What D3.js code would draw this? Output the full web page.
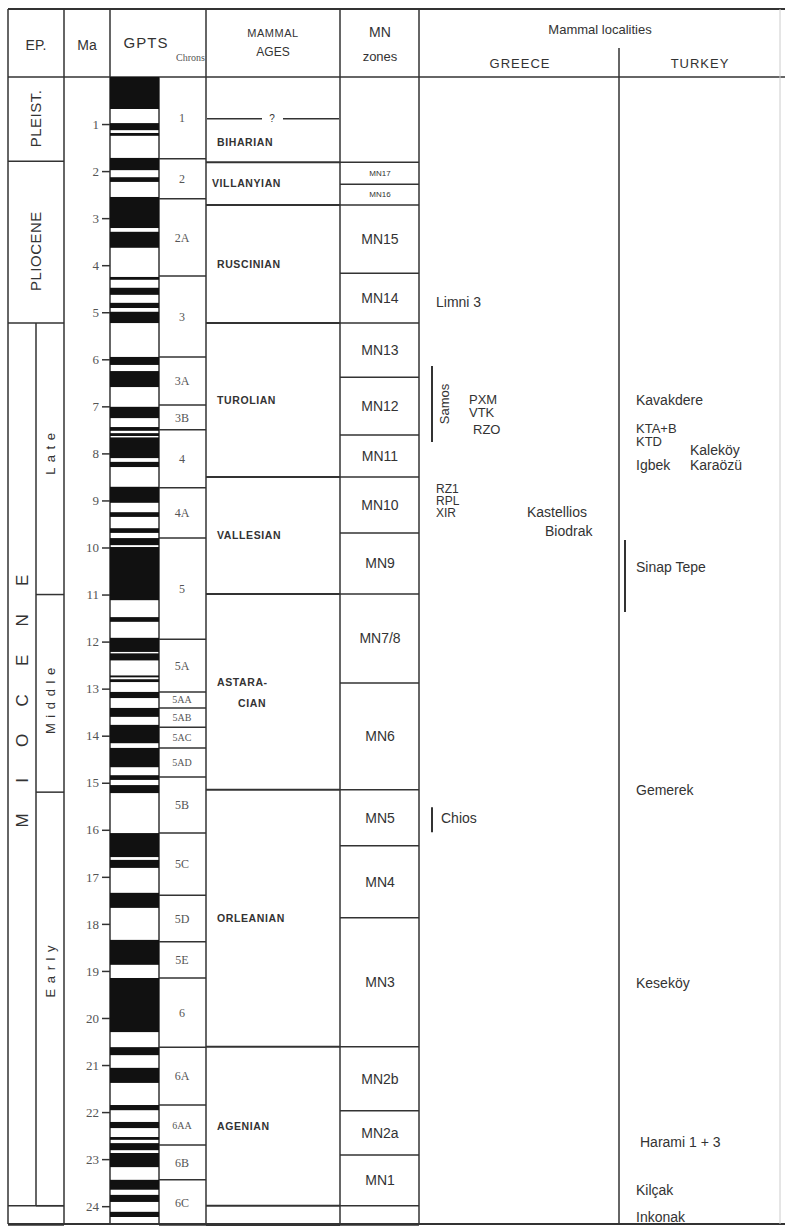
<!DOCTYPE html>
<html>
<head>
<meta charset="utf-8">
<script src="https://cdn.jsdelivr.net/npm/d3@7/dist/d3.min.js"></script>
<style>
  body { margin: 0; background: #fff; }
  text { font-family: "Liberation Sans", Arial, sans-serif; fill: #333; }
  .serif { font-family: "Liberation Serif", "Times New Roman", serif; fill: #555; }
</style>
</head>
<body>
<svg id="chart" width="785" height="1227"></svg>
<script>
// ---- data (ages in Ma) ----
var maTicks = [1, 2, 3, 4, 5, 6, 7, 8, 9, 10, 11, 12, 13, 14, 15, 16, 17, 18, 19, 20, 21, 22, 23, 24];

// normal polarity intervals [top, base]
var normalPolarity = [
  [0, 0.68], [0.98, 1.13], [1.19, 1.25], [1.72, 1.98], [2.13, 2.23],
  [2.55, 3.21], [3.29, 3.63], [4.25, 4.31], [4.48, 4.63], [4.80, 4.91],
  [4.99, 5.23], [5.95, 6.12], [6.25, 6.59], [7.01, 7.25], [7.44, 7.52],
  [7.57, 7.63], [7.66, 8.10], [8.18, 8.29], [8.71, 9.05], [9.25, 9.35],
  [9.59, 9.69], [9.80, 9.95], [9.99, 11.12], [11.48, 11.58], [11.92, 12.22],
  [12.25, 12.40], [12.72, 12.76], [12.80, 12.86], [13.07, 13.20], [13.41, 13.60],
  [13.77, 14.16], [14.26, 14.67], [14.84, 14.94], [15.05, 15.22], [16.07, 16.58],
  [16.64, 16.81], [17.34, 17.66], [18.34, 18.87], [19.15, 20.30], [20.62, 20.79],
  [21.06, 21.38], [21.85, 21.96], [22.21, 22.34], [22.53, 22.59], [22.66, 22.81],
  [22.87, 23.17], [23.44, 23.65], [23.76, 23.91], [24.12, 24.23]
];

var chronNames = ["1", "2", "2A", "3", "3A", "3B", "4", "4A", "5", "5A", "5AA", "5AB",
  "5AC", "5AD", "5B", "5C", "5D", "5E", "6", "6A", "6AA", "6B", "6C"];
var chronBase = [1.74, 2.59, 4.23, 5.95, 6.97, 7.50, 8.73, 9.80, 11.95, 13.07, 13.41, 13.82,
  14.26, 14.88, 16.07, 17.39, 18.38, 19.15, 20.62, 21.85, 22.70, 23.44, 24.4];

var epochNames = ["PLEIST.", "PLIOCENE", "MIOCENE", ""];
var epochBase = [1.79, 5.23, 23.99, 24.4];
var epochLabelAt = [0.88, 3.7, 13.25, null];

var subEpochNames = ["L a t e", "M i d d l e", "E a r l y"];
var subEpochBase = [11.0, 15.2, 23.99];
var subEpochLabelAt = [8.0, 13.25, 19.0];

var mammalAgeNames = ["", "VILLANYIAN", "RUSCINIAN", "TUROLIAN", "VALLESIAN", "ASTARA-|CIAN", "ORLEANIAN", "AGENIAN", ""];
var mammalAgeBase = [1.81, 2.72, 5.23, 8.50, 10.99, 15.15, 20.61, 23.99, 24.4];
var biharianLabel = "BIHARIAN";
var biharianTop = 0.89;

var mnNames = ["", "MN17", "MN16", "MN15", "MN14", "MN13", "MN12", "MN11", "MN10", "MN9",
  "MN7/8", "MN6", "MN5", "MN4", "MN3", "MN2b", "MN2a", "MN1", ""];
var mnBase = [1.81, 2.28, 2.72, 4.17, 5.23, 6.38, 7.61, 8.50, 9.69, 10.99,
  12.88, 15.15, 16.34, 17.87, 20.61, 21.97, 22.91, 23.99, 24.4];

var greeceSites = [
  { name: "Limni 3", ma: 4.78 },
  { name: "PXM", ma: 6.86 },
  { name: "VTK", ma: 7.13 },
  { name: "RZO", ma: 7.50 },
  { name: "RZ1", ma: 8.76 },
  { name: "RPL", ma: 9.01 },
  { name: "XIR", ma: 9.26 },
  { name: "Kastellios", ma: 9.25 },
  { name: "Biodrak", ma: 9.65 },
  { name: "Chios", ma: 15.75 }
];
var turkeySites = [
  { name: "Kavakdere", ma: 6.87 },
  { name: "KTA+B", ma: 7.46 },
  { name: "KTD", ma: 7.74 },
  { name: "Kaleköy", ma: 7.93 },
  { name: "Igbek", ma: 8.25 },
  { name: "Karaözü", ma: 8.25 },
  { name: "Sinap Tepe", ma: 10.41 },
  { name: "Gemerek", ma: 15.15 },
  { name: "Keseköy", ma: 19.26 },
  { name: "Harami 1 + 3", ma: 22.64 },
  { name: "Kilçak", ma: 23.66 },
  { name: "Inkonak", ma: 24.23 }
];
// range bars beside locality groups
var greeceRanges = [{ name: "Samos", top: 6.14, base: 7.76 }, { name: "", top: 15.52, base: 16.05 }];
var turkeyRanges = [{ name: "", top: 9.84, base: 11.37 }];

// ---- drawing ----
var svg = d3.select("#chart");
var y = d3.scaleLinear().domain([0, 24.4]).range([77, 1225]);
var line = "#333";

function hline(x1, x2, yy, w) {
  return svg.append("line").attr("x1", x1).attr("x2", x2).attr("y1", yy).attr("y2", yy)
    .attr("stroke", line).attr("stroke-width", w || 1.5);
}
function vline(xx, y1, y2, w) {
  return svg.append("line").attr("x1", xx).attr("x2", xx).attr("y1", y1).attr("y2", y2)
    .attr("stroke", line).attr("stroke-width", w || 1.5);
}
function tops(base) { return base.map(function(d, i) { return i ? base[i - 1] : 0; }); }

// frame + column lines
hline(8, 785, 9, 2);
hline(8, 785, y(0), 1.5);
hline(8, 785, y(24.4) - 1, 2);
[8, 64, 110, 206, 340, 419].forEach(function(x) { vline(x, 9, y(24.4) - 1); });
vline(159, y(0), y(24.4) - 1);
vline(619, 48, y(24.4) - 1);
vline(780, 9, y(24.4) - 1, 1).attr("stroke", "#ccc");

// header
function htext(x, yy, s, size, anchor, cls) {
  return svg.append("text").attr("x", x).attr("y", yy).attr("text-anchor", anchor || "middle")
    .attr("font-size", size).attr("class", cls || null).text(s);
}
htext(36, 50, "EP.", 14);
htext(87, 50, "Ma", 14);
htext(146, 48, "GPTS", 15).attr("letter-spacing", 1);
htext(205, 61, "Chrons", 10, "end", "serif");
htext(273, 37, "MAMMAL", 11).attr("letter-spacing", 0.5);
htext(273, 56, "AGES", 12);
htext(380, 37, "MN", 14);
htext(380, 61, "zones", 13);
htext(600, 34, "Mammal localities", 13);
htext(520, 68, "GREECE", 13).attr("letter-spacing", 1);
htext(700, 68, "TURKEY", 13).attr("letter-spacing", 1);

// epochs
epochBase.forEach(function(b, i) {
  hline(8, 64, y(b));
  if (!epochNames[i]) return;
  if (i === 2) {
    // widely spaced Miocene label, laid out letter by letter
    var letters = epochNames[i].split("");
    var step = 40;
    svg.append("g").selectAll("text").data(letters).join("text")
      .attr("transform", function(d, k) {
        return "translate(28," + (y(epochLabelAt[i]) + (3 - k) * step) + ") rotate(-90)";
      })
      .attr("text-anchor", "middle").attr("font-size", 17).text(function(d) { return d; });
    return;
  }
  svg.append("text").attr("transform", "translate(41," + y(epochLabelAt[i]) + ") rotate(-90)")
    .attr("text-anchor", "middle").attr("font-size", 15)
    .attr("letter-spacing", 0.5).text(epochNames[i]);
});
vline(36, y(epochBase[1]), y(epochBase[2]));
subEpochBase.forEach(function(b, i) {
  hline(36, 64, y(b));
  svg.append("text").attr("transform", "translate(55," + y(subEpochLabelAt[i]) + ") rotate(-90)")
    .attr("text-anchor", "middle").attr("font-size", 13).attr("letter-spacing", 1).text(subEpochNames[i]);
});

// Ma axis
var axis = svg.append("g").attr("transform", "translate(110,0)")
  .call(d3.axisLeft(y).tickValues(maTicks).tickSize(8).tickPadding(3).tickFormat(d3.format("d")));
axis.select(".domain").remove();
axis.selectAll(".tick line").attr("stroke", line).attr("stroke-width", 1.5);
axis.selectAll(".tick text").attr("class", "serif").attr("font-size", 13).attr("fill", "#555")
  .style("font-family", '"Liberation Serif", serif');

// polarity column
svg.append("g").selectAll("rect").data(normalPolarity).join("rect")
  .attr("x", 110).attr("width", 49)
  .attr("y", function(d) { return y(d[0]); })
  .attr("height", function(d) { return y(d[1]) - y(d[0]); })
  .attr("fill", "#111");

// chrons
var chTop = tops(chronBase);
chronBase.forEach(function(b) { hline(159, 206, y(b)); });
svg.append("g").selectAll("text").data(chronNames).join("text")
  .attr("class", "serif").attr("x", 182).attr("text-anchor", "middle")
  .attr("font-size", function(d) { return d.length > 2 ? 10 : 12; })
  .attr("y", function(d, i) { return (y(chTop[i]) + y(chronBase[i])) / 2; })
  .attr("dy", "0.35em").text(function(d) { return d; });

// mammal ages
var maTop = tops(mammalAgeBase);
mammalAgeBase.forEach(function(b) { hline(206, 340, y(b), 2); });
mammalAgeNames.forEach(function(n, i) {
  if (!n) return;
  var parts = n.split("|");
  var cy = (y(maTop[i]) + y(mammalAgeBase[i])) / 2 - (parts.length - 1) * 10;
  parts.forEach(function(p, j) {
    svg.append("text").attr("x", j ? 238 : (n === "VILLANYIAN" ? 212 : 217)).attr("y", cy + j * 21)
      .attr("dy", "0.35em").attr("font-size", 10.5).attr("font-weight", "bold")
      .attr("letter-spacing", 0.6).attr("fill", "#444").text(p);
  });
});
// uncertain boundary "— ? —" and Biharian
hline(207, 262, y(biharianTop));
hline(283, 339, y(biharianTop));
svg.append("text").attr("x", 272).attr("y", y(biharianTop)).attr("dy", "0.35em")
  .attr("text-anchor", "middle").attr("font-size", 10).attr("fill", "#555").text("?");
svg.append("text").attr("x", 217).attr("y", (y(biharianTop) + y(mammalAgeBase[0])) / 2 + 2)
  .attr("dy", "0.35em").attr("font-size", 10.5).attr("font-weight", "bold")
  .attr("letter-spacing", 0.6).attr("fill", "#444").text(biharianLabel);

// MN zones
var mnTop = tops(mnBase);
mnBase.forEach(function(b) { hline(340, 419, y(b)); });
svg.append("g").selectAll("text").data(mnNames).join("text")
  .attr("x", 380).attr("text-anchor", "middle")
  .attr("font-size", function(d) { return d === "MN17" || d === "MN16" ? 8 : 14; })
  .attr("y", function(d, i) { return (y(mnTop[i]) + y(mnBase[i])) / 2; })
  .attr("dy", "0.35em").text(function(d) { return d; });

// localities
var greeceDx = { "PXM": 33, "VTK": 33, "RZO": 37, "Kastellios": 91, "Biodrak": 109, "Chios": 5 };
var turkeyDx = { "Kaleköy": 54, "Karaözü": 54, "Harami 1 + 3": 4 };
var small = { "RZ1": 12, "RPL": 12, "XIR": 12, "PXM": 13, "VTK": 13, "RZO": 13, "KTA+B": 13, "KTD": 13 };
svg.append("g").selectAll("text").data(greeceSites).join("text")
  .attr("x", function(d) { return 436 + (greeceDx[d.name] || 0); })
  .attr("y", function(d) { return y(d.ma); }).attr("dy", "0.35em")
  .attr("font-size", function(d) { return small[d.name] || 14; })
  .text(function(d) { return d.name; });
svg.append("g").selectAll("text").data(turkeySites).join("text")
  .attr("x", function(d) { return 636 + (turkeyDx[d.name] || 0); })
  .attr("y", function(d) { return y(d.ma); }).attr("dy", "0.35em")
  .attr("font-size", function(d) { return small[d.name] || 14; })
  .text(function(d) { return d.name; });

greeceRanges.forEach(function(r) {
  vline(432, y(r.top), y(r.base), 2);
  if (r.name) {
    svg.append("text").attr("transform", "translate(449," + (y(r.top) + y(r.base)) / 2 + ") rotate(-90)")
      .attr("text-anchor", "middle").attr("font-size", 13).text(r.name);
  }
});
turkeyRanges.forEach(function(r) { vline(625, y(r.top), y(r.base), 2); });
</script>
</body>
</html>
